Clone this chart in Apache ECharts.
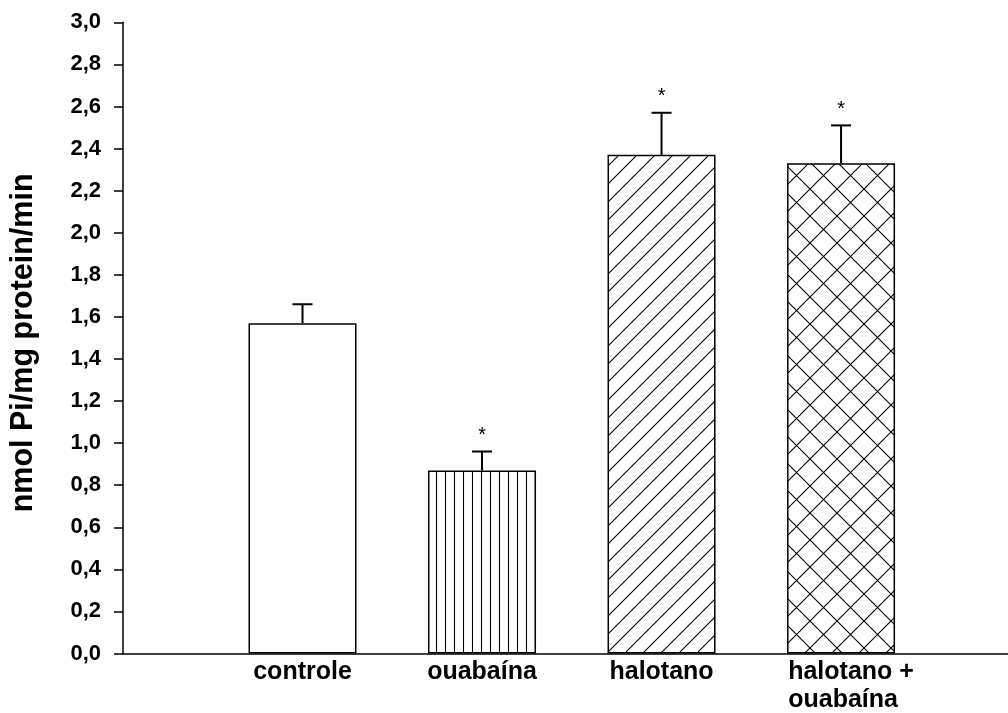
<!DOCTYPE html>
<html>
<head>
<meta charset="utf-8">
<script src="https://cdn.jsdelivr.net/npm/echarts@6/dist/echarts.min.js"></script>
<style>
html,body{margin:0;padding:0;background:#fff;}
#chart{width:1008px;height:713px;}
</style>
</head>
<body>
<div id="chart"></div>
<script>
// ---- data ----
const categories = ['controle', 'ouabaína', 'halotano', 'halotano +\nouabaína'];
const means = [1.57, 0.87, 2.37, 2.33];
const upperErrors = [1.66, 0.96, 2.57, 2.51];
const significant = [false, true, true, true];
const yMin = 0, yMax = 3.0, yStep = 0.2;

// ---- fill patterns ----
function makeTile(w, h, draw) {
  const c = document.createElement('canvas');
  c.width = w; c.height = h;
  const ctx = c.getContext('2d');
  ctx.fillStyle = '#fff';
  ctx.fillRect(0, 0, w, h);
  ctx.strokeStyle = '#000';
  ctx.lineWidth = 1.1;
  draw(ctx, w, h);
  return { image: c, repeat: 'repeat' };
}
const patterns = [
  '#ffffff',
  makeTile(9, 9, (ctx, w, h) => { ctx.beginPath(); ctx.moveTo(4.5, 0); ctx.lineTo(4.5, h); ctx.stroke(); }),
  makeTile(18, 18, (ctx, w, h) => {
    ctx.beginPath();
    ctx.moveTo(-2, h + 2); ctx.lineTo(w + 2, -2);
    ctx.moveTo(-2, 2); ctx.lineTo(2, -2);
    ctx.moveTo(w - 2, h + 2); ctx.lineTo(w + 2, h - 2);
    ctx.stroke();
  }),
  makeTile(27, 27, (ctx, w, h) => {
    ctx.beginPath();
    ctx.moveTo(-2, h + 2); ctx.lineTo(w + 2, -2);
    ctx.moveTo(-2, -2); ctx.lineTo(w + 2, h + 2);
    ctx.stroke();
  })
];

const FONT = '"Liberation Sans", Arial, Helvetica, sans-serif';

const barData = categories.map((c, i) => ({
  value: [i + 1, means[i]],
  itemStyle: { color: patterns[i], borderColor: '#000', borderWidth: 1.5 }
}));
const errData = categories.map((c, i) => [i + 1, means[i], upperErrors[i], significant[i] ? 1 : 0]);

const chart = echarts.init(document.getElementById('chart'), null, { renderer: 'canvas' });
chart.setOption({
  backgroundColor: '#ffffff',
  animation: false,
  grid: { left: 119.5, right: 0, top: 22.3, bottom: 58.5, containLabel: false },
  xAxis: {
    type: 'value',
    min: 0, max: 4.93, interval: 1,
    axisLine: { show: true, lineStyle: { color: '#000', width: 1.5 } },
    axisTick: { show: false },
    splitLine: { show: false },
    axisLabel: {
      showMaxLabel: false,
      margin: 5,
      formatter: v => {
        const i = Math.round(v) - 1;
        if (i < 0 || i >= categories.length) return '';
        const lines = categories[i].split('\n');
        const style = lines.length > 1 ? 'b' : 'a';
        return lines.map(l => '{' + style + '|' + l + '}').join('\n');
      },
      rich: {
        a: { fontFamily: FONT, fontWeight: 'bold', fontSize: 25, color: '#000', lineHeight: 28, align: 'left' },
        b: { fontFamily: FONT, fontWeight: 'bold', fontSize: 25, color: '#000', lineHeight: 28, align: 'left', padding: [0, 0, 0, 20] }
      }
    }
  },
  yAxis: {
    type: 'value',
    min: yMin, max: yMax, interval: yStep,
    name: 'nmol Pi/mg protein/min',
    nameLocation: 'middle',
    nameGap: 84,
    nameTextStyle: { fontFamily: FONT, fontWeight: 'bold', fontSize: 30.5, color: '#000', padding: [0, 10, 0, 0] },
    axisLine: { show: true, lineStyle: { color: '#000', width: 1.5 } },
    axisTick: { show: true, inside: false, length: 9, lineStyle: { color: '#000', width: 1.5 } },
    splitLine: { show: false },
    axisLabel: {
      margin: 22,
      fontFamily: FONT, fontWeight: 'bold', fontSize: 22, color: '#000',
      formatter: v => v.toFixed(1).replace('.', ',')
    }
  },
  series: [
    {
      type: 'bar',
      barWidth: 108,
      data: barData,
      z: 2
    },
    {
      type: 'custom',
      z: 3,
      clip: false,
      data: errData,
      renderItem: (params, api) => {
        const x = api.value(0);
        const top = api.coord([x, api.value(1)]);
        const up = api.coord([x, api.value(2)]);
        const children = [
          { type: 'line', shape: { x1: top[0], y1: top[1], x2: up[0], y2: up[1] }, style: { stroke: '#000', lineWidth: 2 } },
          { type: 'line', shape: { x1: up[0] - 10, y1: up[1], x2: up[0] + 10, y2: up[1] }, style: { stroke: '#000', lineWidth: 2 } }
        ];
        if (api.value(3)) {
          children.push({
            type: 'text',
            style: { text: '*', x: up[0], y: up[1] - 6, textAlign: 'center', textVerticalAlign: 'bottom', fontFamily: FONT, fontSize: 20, fill: '#000' }
          });
        }
        return { type: 'group', children };
      }
    }
  ]
});
</script>
</body>
</html>
